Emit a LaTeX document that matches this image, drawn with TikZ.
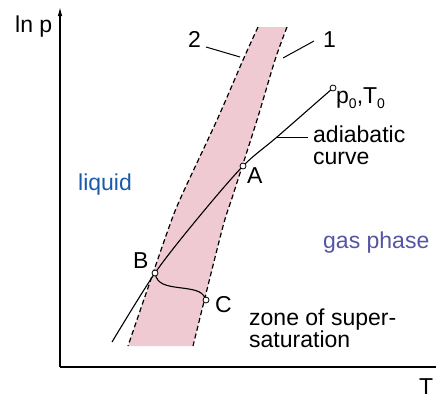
\documentclass[tikz,border=0pt]{standalone}
\usepackage{fontspec}
\setmainfont{Liberation Sans}
\usetikzlibrary{arrows.meta}
\definecolor{bandpink}{RGB}{240,202,211}
\definecolor{liqblue}{RGB}{25,90,170}
\definecolor{gasblue}{RGB}{85,85,165}
\begin{document}
\begin{tikzpicture}[x=1pt,y={(0pt,-1pt)},
  lbl/.style={font=\fontsize{23}{22}\selectfont, inner sep=0pt, anchor=base west},
  axis/.style={line width=1.1pt},
  dashline/.style={dash pattern=on 5pt off 3pt, line width=1.2pt},
  curve/.style={line width=1.1pt},
  leader/.style={line width=1pt},
  dot/.style={circle, draw, fill=white, inner sep=0pt, minimum size=6pt, line width=0.8pt}]
\useasboundingbox (0,0) rectangle (436,400);
% band
\fill[bandpink] plot[smooth] coordinates {(258,27) (243,60) (217,120) (182,195) (168,230) (128,346)}
  -- plot[smooth] coordinates {(193,346) (222,230) (233,195) (257,120) (275,60) (287,27)} -- cycle;
\draw[dashline] plot[smooth] coordinates {(258,27) (243,60) (217,120) (182,195) (168,230) (128,346)};
\draw[dashline] plot[smooth] coordinates {(287,27) (275,60) (257,120) (233,195) (222,230) (193,346)};
% axes
\coordinate (O) at (60,367);
\coordinate (Ytop) at (60,7);
\coordinate (Xend) at (436,367);
\draw[axis,-{Latex[length=9pt,width=4.5pt]}] (O) -- (Ytop);
\draw[axis] (O) -- (Xend);
% adiabatic curve
\coordinate (p0) at (333,88);
\coordinate (A) at (243,166);
\coordinate (B) at (155,273);
\coordinate (C) at (206,300);
\coordinate (Cend) at (112,342);
\draw[curve] plot[smooth] coordinates {(p0) (277,137) (A) (198,218) (B) (Cend)};
\draw[curve] (B) .. controls (157,284) and (165,286) .. (182,288) .. controls (198,290) and (203,292) .. (C);
\node[dot] (p0n) at (p0) {};
\node[dot] (An) at (A) {};
\node[dot] (Bn) at (B) {};
\node[dot] (Cn) at (C) {};
% labels
\node[lbl] (lnp) at (15,32) {ln p};
\node[lbl] (Tl) at (419,394) {T};
\node[lbl] (l1) at (323,47) {1};
\node[lbl] (l2) at (188,47) {2};
\coordinate (l1a) at (314,41); \coordinate (l1b) at (283,58);
\coordinate (l2a) at (206,47); \coordinate (l2b) at (240,57);
\draw[leader] (l1a) -- (l1b);
\draw[leader] (l2a) -- (l2b);
\node[lbl] (pT) at (336,103) {p\raisebox{-5pt}{\fontsize{14}{14}\selectfont 0},T\raisebox{-5pt}{\fontsize{14}{14}\selectfont 0}};
\node[lbl] (Al) at (247,183) {A};
\node[lbl] (Bl) at (133,268) {B};
\node[lbl] (Cl) at (215,312) {C};
\node[lbl] (ad1) at (313,142) {adiabatic};
\node[lbl] (ad2) at (313,164) {curve};
\coordinate (ada) at (277,137); \coordinate (adb) at (308,137);
\draw[leader] (ada) -- (adb);
\node[lbl, text=liqblue] (liq) at (78,190) {liquid};
\node[lbl, text=gasblue] (gas) at (323,248) {gas phase};
\node[lbl] (z1) at (249,325) {zone of super-};
\node[lbl] (z2) at (249,347) {saturation};
\end{tikzpicture}
\end{document}
